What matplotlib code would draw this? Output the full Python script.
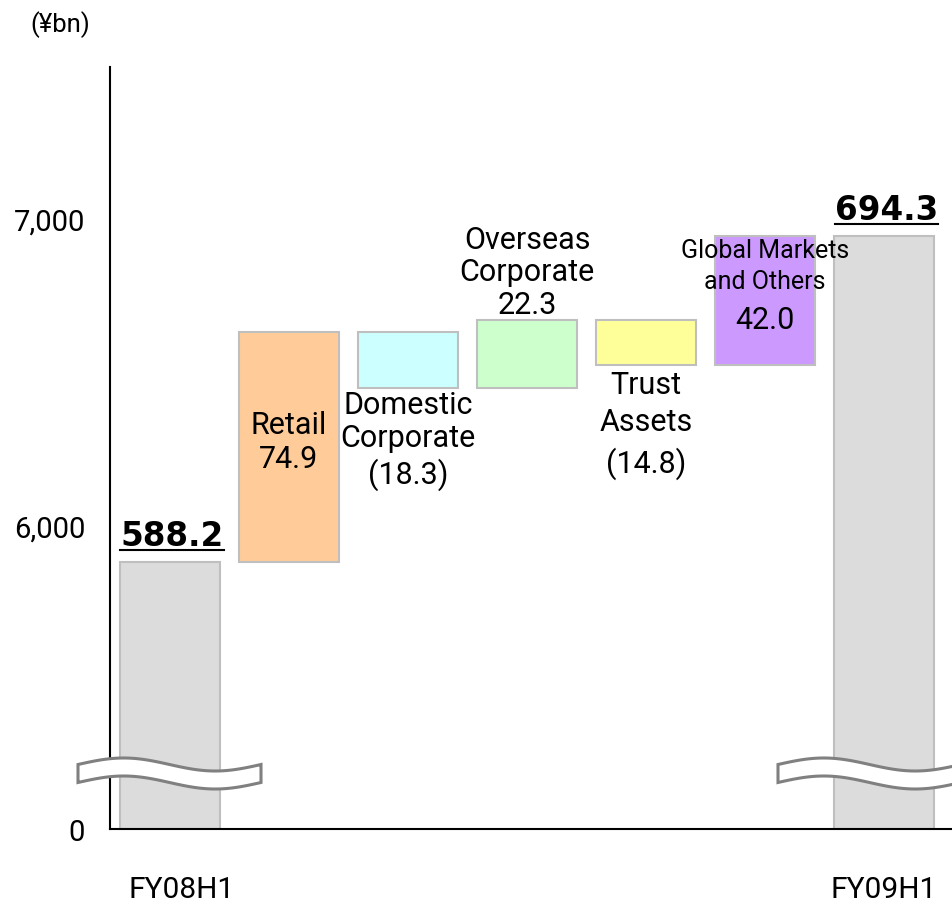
import numpy as np
import matplotlib
matplotlib.use("Agg")
import matplotlib.pyplot as plt
from matplotlib.patches import Polygon
from matplotlib.lines import Line2D
from matplotlib.transforms import ScaledTranslation

plt.rcParams['font.family'] = ['Roboto', 'DejaVu Sans']

# ---------------- data ----------------
categories = ["FY08H1", "Retail", "Domestic\nCorporate", "Overseas\nCorporate",
              "Trust\nAssets", "Global Markets\nand Others", "FY09H1"]
start_value = 5882          # (¥100m) shown as 588.2
deltas = [749, -183, 223, -148, 420]
end_value = 6943            # shown as 694.3
delta_colors = ["#FFCC99", "#CCFFFF", "#CCFFCC", "#FFFF99", "#CC99FF"]
total_color = "#DCDCDC"
ytick_values = [0, 6000, 7000]
ytick_labels = ["0", "6,000", "7,000"]
unit_label = "(¥bn)"

W, H = 952, 903
fig = plt.figure(figsize=(W / 100, H / 100), dpi=100)
ax = fig.add_axes([110 / W, (H - 830) / H, 842 / W, 762 / H])

# broken axis via function scale (compress 0..5400)
B, K = 5400.0, 0.0717
def fwd(v):
    v = np.asarray(v, dtype=float)
    return np.where(v >= B, v, B - (B - v) * K)
def inv(y):
    y = np.asarray(y, dtype=float)
    return np.where(y >= B, y, B - (B - y) / K)
ax.set_yscale('function', functions=(fwd, inv))

x = np.arange(len(categories))
bw = 0.84
edge = "#BFBFBF"

# totals
ax.bar(x[0], start_value, bottom=0, width=bw, color=total_color, edgecolor=edge, linewidth=1.5, zorder=2)
ax.bar(x[-1], end_value, bottom=0, width=bw, color=total_color, edgecolor=edge, linewidth=1.5, zorder=2)

# deltas
levels = start_value + np.cumsum([0] + deltas)
bottoms, tops = [], []
for i, d in enumerate(deltas):
    lo = min(levels[i], levels[i + 1])
    hi = max(levels[i], levels[i + 1])
    bottoms.append(lo)
    tops.append(hi)
    ax.bar(x[i + 1], hi - lo, bottom=lo, width=bw, color=delta_colors[i],
           edgecolor=edge, linewidth=1.5, zorder=2)

ax.set_xlim(-0.504, 6.571)
ax.set_ylim(0, 7495)

for s in ['top', 'right']:
    ax.spines[s].set_visible(False)
for s in ['left', 'bottom']:
    ax.spines[s].set_linewidth(1.5)
    ax.spines[s].set_color('black')

ax.set_yticks(ytick_values)
ax.set_yticklabels(ytick_labels, fontsize=21)
ax.tick_params(axis='y', length=0, pad=18)
ax.set_xticks([x[0], x[-1]])
ax.set_xticklabels([categories[0], categories[-1]], fontsize=21.5)
ax.tick_params(axis='x', length=0, pad=33)
lbl0 = ax.get_xticklabels()[0]
lbl0.set_transform(lbl0.get_transform() + ScaledTranslation(12 / 100, 0, fig.dpi_scale_trans))

fig.text(60 / W, 1 - 25 / H, unit_label, fontsize=18.5, ha='center', va='center')

def fmt(d):
    v = abs(d) / 10
    return f"({v:.1f})" if d < 0 else f"{v:.1f}"

fs = 22
# Retail: inside bar
ax.annotate(f"{categories[1]}\n{fmt(deltas[0])}", xy=(x[1], (bottoms[0] + tops[0]) / 2),
            xytext=(0, 4), textcoords='offset points', ha='center', va='center',
            fontsize=fs, multialignment='center', linespacing=1.22, zorder=4)
# Domestic: below bar
ax.annotate(f"{categories[2]}\n{fmt(deltas[1])}", xy=(x[2], bottoms[1]),
            xytext=(0, -1), textcoords='offset points', ha='center', va='top',
            fontsize=fs, multialignment='center', linespacing=1.2, zorder=4)
# Overseas: above bar
ax.annotate(f"{categories[3]}\n{fmt(deltas[2])}", xy=(x[3], tops[2]),
            xytext=(0, 1), textcoords='offset points', ha='center', va='bottom',
            fontsize=fs, multialignment='center', linespacing=1.15, zorder=4)
# Trust: below bar
ax.annotate(f"{categories[4]}\n{fmt(deltas[3])}", xy=(x[4], bottoms[3]),
            xytext=(0, -3), textcoords='offset points', ha='center', va='top',
            fontsize=fs, multialignment='center', linespacing=1.38, zorder=4)
# Global: straddling top
ax.annotate(categories[5], xy=(x[5], tops[4]),
            xytext=(0, -21), textcoords='offset points', ha='center', va='center',
            fontsize=18, multialignment='center', linespacing=1.35, zorder=4)
ax.annotate(fmt(deltas[4]), xy=(x[5], tops[4]),
            xytext=(0, -60), textcoords='offset points', ha='center', va='center',
            fontsize=fs, zorder=4)

# totals labels (bold, underlined)
tot_texts = []
for xi, val in [(x[0], start_value), (x[-1], end_value)]:
    t = ax.annotate(f"{val / 10:.1f}", xy=(xi, val), xytext=(1.5, 12.5),
                    textcoords='offset points', ha='center', va='baseline',
                    fontsize=23.5, fontweight='bold', family='DejaVu Sans', zorder=4)
    tot_texts.append((t, xi, val))

fig.canvas.draw()
r = fig.canvas.get_renderer()
for t, xi, val in tot_texts:
    bb = t.get_window_extent(r)
    px, py = ax.transData.transform((xi, val))
    base = py + 12.5 * 100 / 72
    yl = base - 5
    (fx0, fy), (fx1, _) = fig.transFigure.inverted().transform([(bb.x0, yl), (bb.x1, yl)])
    fig.add_artist(Line2D([fx0, fx1], [fy, fy], color='black', linewidth=1.5,
                          transform=fig.transFigure, zorder=6))

# break markers (figure pixel coords)
def break_shape(x0, length=183, yc=765.5, amp=6.5, thick=18, xend=None):
    xe = x0 + length if xend is None else xend
    xs = np.linspace(x0, xe, 80)
    top = yc - amp * np.sin(2 * np.pi * (xs - x0) / length)
    bot = top + thick
    pts = np.concatenate([np.column_stack([xs, top]), np.column_stack([xs[::-1], bot[::-1]])])
    pts[:, 0] /= W
    pts[:, 1] = 1 - pts[:, 1] / H
    return pts

for x0, xe in [(78, 261), (778, 975)]:
    poly = Polygon(break_shape(x0, xend=xe), closed=True, facecolor='white',
                   edgecolor='#808080', linewidth=2.2, transform=fig.transFigure, zorder=5)
    fig.add_artist(poly)

fig.savefig("out.png", dpi=100)
